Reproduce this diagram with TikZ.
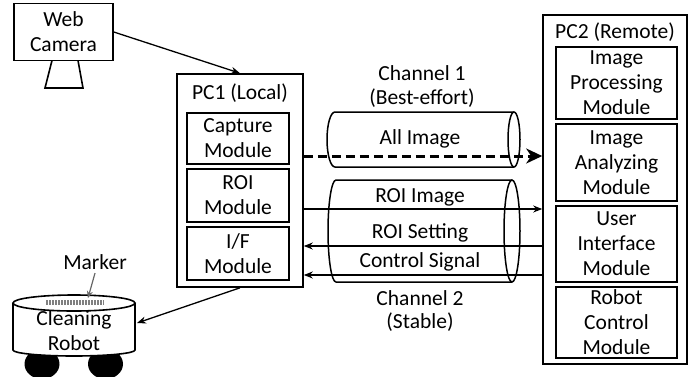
\documentclass[tikz,border=0pt]{standalone}
\usepackage{fontspec}
\setmainfont{Carlito}
\usetikzlibrary{arrows.meta}
\tikzset{
  box/.style={draw, line width=1.6pt, inner sep=0pt, align=center},
  mod1/.style={box, minimum width=102pt},
  mod2/.style={box, minimum width=121pt},
  link/.style={line width=1.3pt, -{Stealth[length=9pt,width=7pt]}},
  bulk/.style={line width=3pt, dash pattern=on 9pt off 5pt, -{Stealth[length=16pt,width=15pt,inset=5pt]}},
  pipe/.style={line width=1.5pt},
}

\begin{document}
\begin{tikzpicture}[x=1pt, y=-1pt, font=\fontsize{21.5}{25}\selectfont]
\useasboundingbox (0,0) rectangle (699,376);

% web camera
\node[box, minimum width=99pt, minimum height=57pt] (cam) at (63.5,32) {Web\\Camera};
\draw[line width=1.6pt] (52,60.5) -- (45,88) -- (83,88) -- (78,60.5);

% PC1
\node[box, minimum width=126pt, minimum height=213pt] (pc1) at (240,180.5) {};
\node (pc1t) at (240,93) {PC1 (Local)};
\node[mod1, minimum height=51pt] (cap) at (238,138.5) {Capture\\Module};
\node[mod1, minimum height=53pt] (roi) at (238,195.5) {ROI\\Module};
\node[mod1, minimum height=53pt] (ifm) at (238,253.5) {I/F\\Module};

% PC2
\node[box, minimum width=144pt, minimum height=349pt] (pc2) at (615,189.5) {};
\node (pc2t) at (615,32) {PC2 (Remote)};
\node[mod2, minimum height=72pt] (proc) at (616.5,83) {Image\\Processing\\Module};
\node[mod2, minimum height=77pt] (ana) at (616.5,162.5) {Image\\Analyzing\\Module};
\node[mod2, minimum height=76pt] (ui) at (616.5,244) {User\\Interface\\Module};
\node[mod2, minimum height=71pt] (rc) at (616.5,322.5) {Robot\\Control\\Module};

% channels
\draw[pipe] (514,112) -- (335,112) arc[start angle=90, end angle=270, x radius=8pt, y radius=27.5pt] -- (514,167);
\draw[pipe] (514,139.5) ellipse [x radius=6pt, y radius=27.5pt];
\draw[pipe] (512,180) -- (336,180) arc[start angle=90, end angle=270, x radius=8pt, y radius=51pt] -- (512,282);
\draw[pipe] (512,231) ellipse [x radius=8pt, y radius=51pt];

\node (ch1) at (422,73) {Channel 1};
\node (ch1b) at (422,98) {(Best-effort)};
\node (all) at (420,139) {All Image};
\node (ri) at (420,197) {ROI Image};
\node (rs) at (420,233) {ROI Setting};
\node (cs) at (420,262) {Control Signal};
\node (ch2) at (420,298) {Channel 2};
\node (ch2b) at (420,322) {(Stable)};

\coordinate (y1) at (0,156);
\coordinate (y2) at (0,209);
\coordinate (y3) at (0,246);
\coordinate (y4) at (0,275);
\draw[bulk] (pc1.east |- y1) -- (pc2.west |- y1);
\draw[link] (pc1.east |- y2) -- (pc2.west |- y2);
\draw[link] (pc2.west |- y3) -- (pc1.east |- y3);
\draw[link] (pc2.west |- y4) -- (pc1.east |- y4);

% cleaning robot
\begin{scope}
\clip (0,0) rectangle (699,376);
\fill (42,364) ellipse [x radius=17.5pt, y radius=15pt];
\fill (105.5,364) ellipse [x radius=17.5pt, y radius=15pt];
\end{scope}
\filldraw[fill=white, line width=1.6pt] (13,303) -- (13,350) arc[start angle=180, end angle=360, x radius=61pt, y radius=6pt] -- (135,303);
\filldraw[fill=white, line width=1.6pt] (74,303) ellipse [x radius=61pt, y radius=8pt];
\foreach \x in {46,47.5,...,104}
  \draw[gray, line width=0.8pt] (\x,300) -- (\x,305);
\node[align=center] (rob) at (74,331) {Cleaning\\Robot};
\coordinate (robe) at (137,323);
\node (mk) at (95,262) {Marker};
\coordinate (mkbar) at (88,298);
\draw[gray!80!black, line width=1.2pt, -{Stealth[length=7pt,width=6pt]}] (mk.south) -- (mkbar);

\draw[link] (cam.east) -- (pc1.north);
\draw[link] (pc1.south) -- (robe);
\end{tikzpicture}
\end{document}
